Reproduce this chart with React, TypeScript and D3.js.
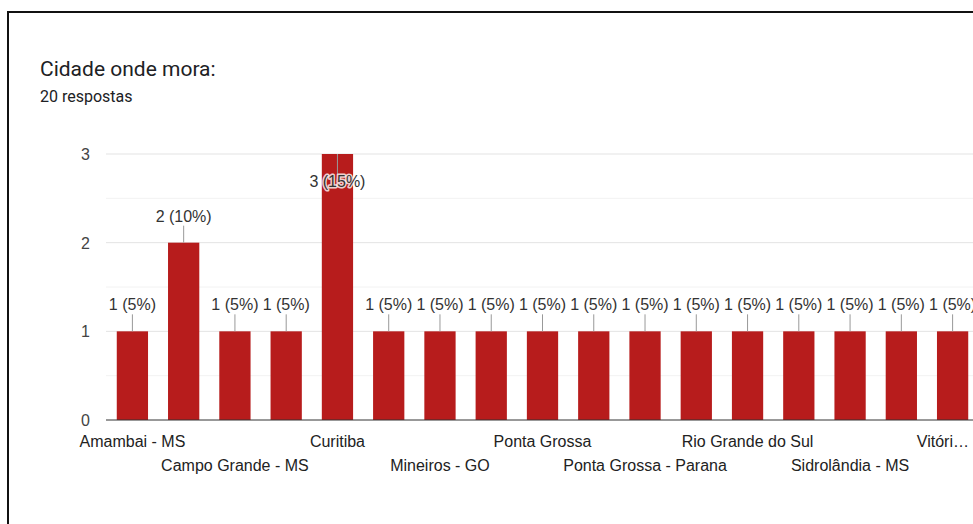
import React from "react";
import * as d3 from "d3";

const title = "Cidade onde mora:";
const subtitle = "20 respostas";
const categories = [
  "Amambai - MS", "", "Campo Grande - MS", "", "Curitiba", "", "Mineiros - GO", "",
  "Ponta Grossa", "", "Ponta Grossa - Parana", "", "Rio Grande do Sul", "",
  "Sidrolândia - MS", "", "Vitóri…",
];
const values = [1, 2, 1, 1, 3, 1, 1, 1, 1, 1, 1, 1, 1, 1, 1, 1, 1];
const totalResponses = 20;
const yTicks = [0, 1, 2, 3];
const yMinorTicks = [0.5, 1.5, 2.5];

const W = 973;
const H = 524;
const plotLeft = 106;
const plotRight = 979;
const plotTop = 154;
const plotBottom = 420;
const BAR = "#b71c1c";
const FONT = "Arial, 'Liberation Sans', sans-serif";

export default function App() {
  const idx = values.map((_, i) => i);
  const x = d3.scaleBand<number>().domain(idx).range([plotLeft, plotRight]).paddingInner(0.39).paddingOuter(0.21);
  const y = d3.scaleLinear().domain([0, 3]).range([plotBottom, plotTop]);
  const pct = (v: number) => `${v} (${Math.round((v / totalResponses) * 100)}%)`;

  return (
    <div style={{ position: "fixed", left: 0, top: 0 }}>
      <svg width={W} height={H} style={{ display: "block", background: "#fff" }}>
        <rect x={0} y={0} width={W} height={H} fill="#fff" />
        <line x1={8} y1={11} x2={8} y2={H} stroke="#111" strokeWidth={2} />
        <line x1={7} y1={12} x2={W} y2={12} stroke="#111" strokeWidth={2} />
        <text x={40} y={76} fontFamily="Roboto, sans-serif" fontSize={21} fill="#202124">{title}</text>
        <text x={40} y={102} fontFamily="Roboto, sans-serif" fontSize={16} fill="#202124">{subtitle}</text>

        {yMinorTicks.map((t) => (
          <line key={"m" + t} x1={plotLeft} x2={W} y1={y(t)} y2={y(t)} stroke="#f2f2f2" strokeWidth={1} />
        ))}
        {yTicks.filter((t) => t > 0).map((t) => (
          <line key={"g" + t} x1={plotLeft} x2={W} y1={y(t)} y2={y(t)} stroke="#e3e3e3" strokeWidth={1} />
        ))}
        {yTicks.map((t) => (
          <text key={"t" + t} x={90} y={y(t) + 6} textAnchor="end" fontFamily={FONT} fontSize={16} fill="#444">{t}</text>
        ))}

        {values.map((v, i) => (
          <rect key={"b" + i} x={x(i)} y={y(v)} width={x.bandwidth()} height={y(0) - y(v)} fill={BAR} />
        ))}
        <line x1={plotLeft} x2={W} y1={plotBottom} y2={plotBottom} stroke="#333" strokeWidth={1} />

        {values.map((v, i) => {
          const cx = (x(i) as number) + x.bandwidth() / 2;
          const top = y(v);
          const inside = top - 38 < plotTop - 5;
          const lineEnd = inside ? top + 21 : top - 17;
          const baseY = inside ? top + 33 : top - 21;
          return (
            <g key={"a" + i}>
              <line x1={cx} x2={cx} y1={top} y2={lineEnd} stroke="#999" strokeWidth={1} />
              <text x={cx} y={baseY} textAnchor="middle" fontFamily={FONT} fontSize={16} fill="#333"
                stroke="#fff" strokeWidth={3} strokeLinejoin="round" style={{ paintOrder: "stroke" }} strokeOpacity={inside ? 0.8 : 1}>
                {pct(v)}
              </text>
            </g>
          );
        })}

        {categories.map((c, i) => {
          if (!c) return null;
          const last = i === categories.length - 1;
          const cx = (x(i) as number) + x.bandwidth() / 2;
          return (
            <text key={"c" + i} x={last ? 969 : cx} y={i % 4 === 0 ? 447 : 471}
              textAnchor={last ? "end" : "middle"} fontFamily={FONT} fontSize={16} fill="#222">{c}</text>
          );
        })}
      </svg>
    </div>
  );
}
